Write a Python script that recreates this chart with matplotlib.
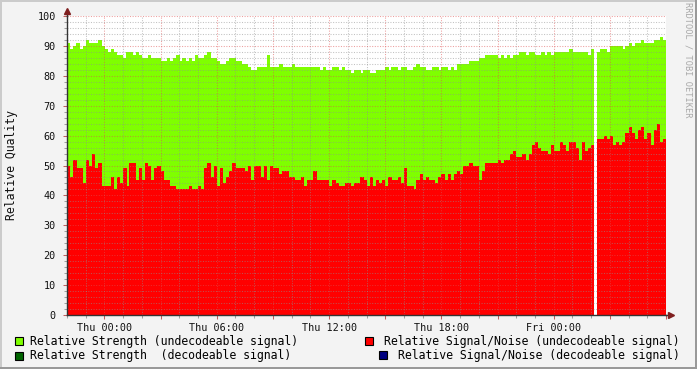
import numpy as np
import matplotlib
matplotlib.use("Agg")
import matplotlib.pyplot as plt
from matplotlib.patches import Rectangle
from matplotlib.ticker import MultipleLocator, FixedLocator

nan = np.nan
# 10-minute samples starting Wed 22:00 (hour -2 relative to Thu 00:00)
strength_undecodeable = [
    91, 89, 90, 91, 89, 90, 92, 91, 91, 91,
    92, 90, 89, 88, 89, 88, 87, 87, 86, 88,
    88, 87, 88, 87, 86, 86, 87, 86, 86, 86,
    85, 85, 86, 85, 86, 87, 85, 86, 85, 86,
    85, 87, 86, 86, 87, 88, 86, 86, 85, 84,
    84, 85, 86, 86, 85, 85, 84, 84, 83, 82,
    82, 83, 83, 83, 87, 83, 83, 83, 84, 83,
    83, 83, 84, 83, 83, 83, 83, 83, 83, 83,
    83, 82, 83, 82, 82, 83, 83, 82, 83, 82,
    82, 81, 82, 82, 81, 82, 82, 81, 81, 82,
    82, 82, 83, 82, 83, 83, 82, 83, 83, 82,
    82, 83, 84, 83, 83, 82, 82, 83, 83, 82,
    83, 83, 82, 83, 82, 84, 84, 84, 84, 85,
    85, 85, 86, 86, 87, 87, 87, 87, 86, 87,
    86, 87, 86, 87, 87, 88, 88, 87, 88, 88,
    87, 87, 88, 87, 88, 87, 88, 88, 88, 88,
    88, 89, 88, 88, 88, 88, 88, 87, 89, nan,
    88, 89, 89, 88, 90, 90, 90, 90, 89, 90,
    91, 90, 91, 91, 92, 91, 91, 91, 92, 92, 93, 92,
]
snr_undecodeable = [
    50, 46, 52, 49, 49, 44, 52, 50, 54, 49,
    51, 43, 43, 43, 46, 42, 46, 44, 49, 43,
    51, 51, 45, 49, 45, 51, 50, 45, 49, 50,
    48, 45, 45, 43, 43, 42, 42, 42, 42, 43,
    42, 42, 43, 42, 49, 51, 46, 50, 43, 49,
    44, 46, 48, 51, 49, 49, 49, 48, 50, 45,
    50, 50, 46, 50, 45, 50, 49, 49, 47, 48,
    48, 46, 46, 45, 45, 46, 43, 45, 45, 48,
    45, 45, 45, 45, 43, 45, 44, 43, 43, 44,
    44, 43, 44, 44, 46, 45, 43, 46, 43, 45,
    44, 45, 43, 46, 45, 45, 46, 44, 49, 43,
    43, 42, 45, 47, 45, 46, 45, 45, 44, 46,
    47, 45, 47, 45, 47, 48, 47, 50, 50, 51,
    50, 50, 45, 48, 51, 51, 51, 51, 52, 51,
    52, 52, 54, 55, 53, 53, 54, 52, 54, 57,
    58, 56, 55, 55, 54, 57, 55, 55, 58, 57,
    55, 58, 58, 56, 52, 58, 55, 56, 57, nan,
    59, 59, 60, 59, 60, 57, 58, 57, 58, 61,
    63, 61, 59, 62, 63, 59, 61, 57, 62, 64, 58, 59,
]
# decodeable series carry no data in this window
strength_decodeable = [nan] * len(strength_undecodeable)
snr_decodeable = [nan] * len(snr_undecodeable)

start_hour = -2.0
step_hours = 1.0 / 6.0
x_tick_hours = [0, 6, 12, 18, 24]
x_tick_labels = ["Thu 00:00", "Thu 06:00", "Thu 12:00", "Thu 18:00", "Fri 00:00"]
y_ticks = list(range(0, 101, 10))

legend_labels = [
    "Relative Strength (undecodeable signal)",
    "Relative Strength  (decodeable signal)",
    "Relative Signal/Noise (undecodeable signal)",
    "Relative Signal/Noise (decodeable signal)",
]
colors = ["#7FFF00", "#006400", "#FF0000", "#000080"]

W, H = 697, 369
fig = plt.figure(figsize=(W / 100, H / 100), dpi=100)
fig.patch.set_facecolor("#F3F3F3")
mono = "DejaVu Sans Mono"

ax = fig.add_axes([67 / W, 1 - 315 / H, 599 / W, 299 / H])
ax.set_facecolor("white")

n = len(strength_undecodeable)
t = start_hour + np.arange(n) * step_hours
s = np.array(strength_undecodeable, dtype=float)
r = np.array(snr_undecodeable, dtype=float)
sd = np.array(strength_decodeable, dtype=float)
rd = np.array(snr_decodeable, dtype=float)

def bars(vals, color, z):
    m = ~np.isnan(vals)
    ax.bar(t[m], vals[m], width=step_hours * 1.08, align="edge", color=color,
           linewidth=0, antialiased=False, zorder=z)

bars(s, colors[0], 1)
bars(sd, colors[1], 1.1)
bars(r, colors[2], 1.2)
bars(rd, colors[3], 1.3)

ax.set_xlim(start_hour, start_hour + n * step_hours)
ax.set_ylim(0, 100)

# grid
ax.set_axisbelow(False)
ax.xaxis.set_major_locator(MultipleLocator(3))
ax.xaxis.set_minor_locator(MultipleLocator(1))
ax.yaxis.set_major_locator(FixedLocator(y_ticks))
ax.yaxis.set_minor_locator(MultipleLocator(2))
ax.grid(which="major", color="#DE5050", alpha=0.55, linestyle=(0, (1, 1.5)), linewidth=0.75)
ax.grid(which="minor", color="#8F8F8F", alpha=0.55, linestyle=(0, (1, 1.5)), linewidth=0.75)

def fmt_x(v, pos):
    for h, lab in zip(x_tick_hours, x_tick_labels):
        if abs(v - h) < 1e-6:
            return lab
    return ""
ax.xaxis.set_major_formatter(plt.FuncFormatter(fmt_x))
ax.set_yticklabels([str(v) for v in y_ticks])

ax.tick_params(axis="both", which="major", length=3, width=0.75, color="#C06060",
               labelsize=7.3, labelcolor="#111111")
ax.tick_params(axis="both", which="minor", length=2, width=0.75, color="#A0A0A0")
ax.tick_params(axis="y", which="major", pad=5)
ax.tick_params(axis="x", which="major", pad=3)
for lab in ax.get_xticklabels() + ax.get_yticklabels():
    lab.set_family(mono)

for sp in ["top", "right"]:
    ax.spines[sp].set_visible(False)
for sp in ["left", "bottom"]:
    ax.spines[sp].set_color("#333333")
    ax.spines[sp].set_linewidth(1)
    ax.spines[sp].set_zorder(5)

# axis extensions and arrows
ax.plot([0, 0], [1, 1 + 5 / 299], transform=ax.transAxes, color="#333333", lw=1, clip_on=False, zorder=5)
ax.plot([1, 1 + 4 / 599], [0, 0], transform=ax.transAxes, color="#333333", lw=1, clip_on=False, zorder=5)
ax.plot([0], [1 + 5 / 299], marker="^", ms=4, color="#7F1F1F", transform=ax.transAxes, clip_on=False, zorder=6)
ax.plot([1 + 5 / 599], [0], marker=">", ms=4, color="#7F1F1F", transform=ax.transAxes, clip_on=False, zorder=6)

# y label and watermark
fig.text(12 / W, 1 - 165 / H, "Relative Quality", rotation=90, ha="center", va="center",
         family=mono, fontsize=8.3, color="#111111")
fig.text(688 / W, 1 - 60 / H, "RRDTOOL / TOBI OETIKER", rotation=-90, ha="center", va="center",
         family=mono, fontsize=6.2, color="#A8A8A8")

# legend
def square(x0, y0, color):
    fig.add_artist(Rectangle((x0 / W, 1 - (y0 + 8) / H), 8 / W, 8 / H, transform=fig.transFigure,
                             facecolor=color, edgecolor="black", linewidth=0.8))

square(15, 337, colors[0])
fig.text(30 / W, 1 - 341 / H, legend_labels[0], ha="left", va="center", family=mono, fontsize=8.3)
square(15, 352, colors[1])
fig.text(30 / W, 1 - 356 / H, legend_labels[1], ha="left", va="center", family=mono, fontsize=8.3)
square(365, 337, colors[2])
fig.text(680 / W, 1 - 341 / H, legend_labels[2], ha="right", va="center", family=mono, fontsize=8.3)
square(379, 351, colors[3])
fig.text(680 / W, 1 - 355 / H, legend_labels[3], ha="right", va="center", family=mono, fontsize=8.3)

# 3D-ish frame
fig.add_artist(Rectangle((0, 1 - 2 / H), 1, 2 / H, transform=fig.transFigure, facecolor="#CBCBCB", edgecolor="none"))
fig.add_artist(Rectangle((0, 0), 2 / W, 1, transform=fig.transFigure, facecolor="#CBCBCB", edgecolor="none"))
fig.add_artist(Rectangle((0, 0), 1, 2 / H, transform=fig.transFigure, facecolor="#999999", edgecolor="none"))
fig.add_artist(Rectangle((1 - 2 / W, 0), 2 / W, 1, transform=fig.transFigure, facecolor="#999999", edgecolor="none"))

fig.savefig("out.png", dpi=100, facecolor=fig.get_facecolor())
